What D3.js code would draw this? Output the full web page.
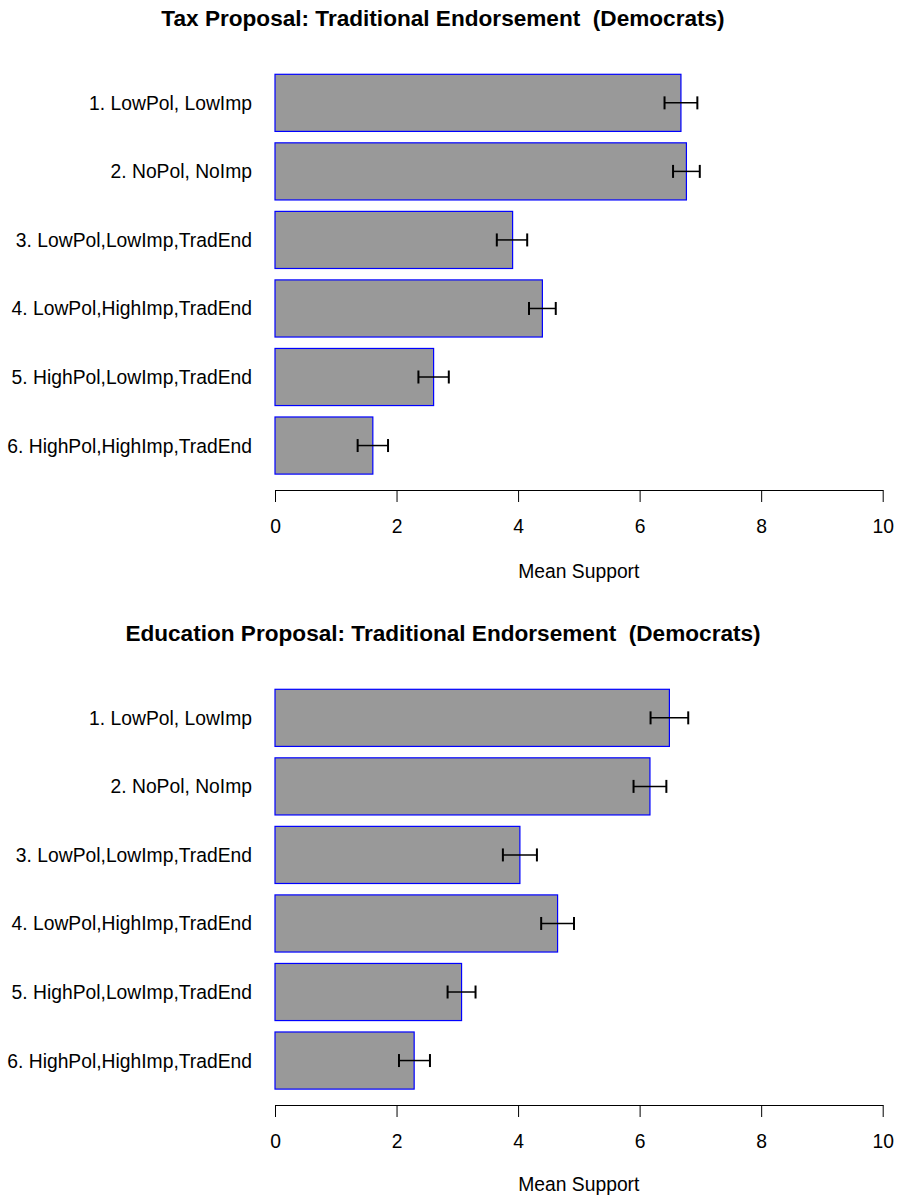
<!DOCTYPE html>
<html>
<head>
<meta charset="utf-8">
<script src="https://cdn.jsdelivr.net/npm/d3@7"></script>
<style>
  html, body { margin: 0; padding: 0; background: #fff; }
  svg text { font-family: "Liberation Sans", Arial, Helvetica, sans-serif; fill: #000; }
</style>
</head>
<body>
<div id="chart"></div>
<script>
/* Categories (top to bottom) */
const categories = [
  "1. LowPol, LowImp",
  "2. NoPol, NoImp",
  "3. LowPol,LowImp,TradEnd",
  "4. LowPol,HighImp,TradEnd",
  "5. HighPol,LowImp,TradEnd",
  "6. HighPol,HighImp,TradEnd"
];

/* Tax proposal: means and error bar ends */
const taxMeans = [6.68, 6.77, 3.91, 4.40, 2.61, 1.61];
const taxLower = [6.41, 6.55, 3.65, 4.18, 2.36, 1.36];
const taxUpper = [6.95, 6.99, 4.15, 4.62, 2.86, 1.86];

/* Education proposal: means and error bar ends */
const eduMeans = [6.49, 6.17, 4.03, 4.65, 3.07, 2.29];
const eduLower = [6.18, 5.90, 3.75, 4.38, 2.84, 2.04];
const eduUpper = [6.80, 6.44, 4.31, 4.92, 3.30, 2.55];

const xTicks = [0, 2, 4, 6, 8, 10];
const xLabel = "Mean Support";
const taxTitle = "Tax Proposal: Traditional Endorsement  (Democrats)";
const eduTitle = "Education Proposal: Traditional Endorsement  (Democrats)";

const width = 900, height = 1198;

const svg = d3.select("#chart").append("svg")
  .attr("width", width)
  .attr("height", height);

/**
 * Draw one horizontal bar panel with error bars.
 * @param {number} top - vertical offset of the panel
 */
function drawPanel(top, title, means, lower, upper, labelY) {
  var p = new Object();
  p.g = svg.append("g").attr("transform", "translate(0," + top + ")");

  p.x = d3.scaleLinear().domain([0, 10]).range([275, 882.7]);
  p.y = d3.scaleBand().domain(categories).range([74.3, 474.1])
    .paddingInner(1 / 6).paddingOuter(0);

  var rows = categories.map(function (c, i) {
    return { cat: c, m: means[i], lo: lower[i], hi: upper[i] };
  });

  /* Title */
  p.g.append("text")
    .attr("x", 443)
    .attr("y", 26)
    .attr("text-anchor", "middle")
    .style("font-size", "22.6px")
    .style("font-weight", "bold")
    .style("white-space", "pre")
    .text(title);

  /* Bars */
  p.g.selectAll(".bar")
    .data(rows)
    .enter()
    .append("rect")
    .attr("class", "bar")
    .attr("x", p.x(0))
    .attr("y", function (r) { return p.y(r.cat); })
    .attr("width", function (r) { return p.x(r.m) - p.x(0); })
    .attr("height", p.y.bandwidth())
    .style("fill", "#999999")
    .style("stroke", "#0000ff")
    .style("stroke-width", 1.2);

  /* Error bars */
  var eb = p.g.selectAll(".err")
    .data(rows)
    .enter()
    .append("g")
    .attr("class", "err")
    .attr("transform", function (r) {
      return "translate(0," + (p.y(r.cat) + p.y.bandwidth() / 2) + ")";
    });
  eb.append("line")
    .attr("x1", function (r) { return p.x(r.lo); })
    .attr("x2", function (r) { return p.x(r.hi); })
    .style("stroke", "#000")
    .style("stroke-width", 1.5);
  eb.append("line")
    .attr("x1", function (r) { return p.x(r.lo); })
    .attr("x2", function (r) { return p.x(r.lo); })
    .attr("y1", -6.5).attr("y2", 6.5)
    .style("stroke", "#000")
    .style("stroke-width", 2);
  eb.append("line")
    .attr("x1", function (r) { return p.x(r.hi); })
    .attr("x2", function (r) { return p.x(r.hi); })
    .attr("y1", -6.5).attr("y2", 6.5)
    .style("stroke", "#000")
    .style("stroke-width", 2);

  /* Category labels */
  p.g.selectAll(".cat-label")
    .data(rows)
    .enter()
    .append("text")
    .attr("class", "cat-label")
    .attr("x", 252)
    .attr("y", function (r) { return p.y(r.cat) + p.y.bandwidth() / 2 + 7; })
    .attr("text-anchor", "end")
    .style("font-size", "19.3px")
    .text(function (r) { return r.cat; });

  /* x axis */
  var ax = p.g.append("g")
    .attr("transform", "translate(0,490)")
    .call(d3.axisBottom(p.x).tickValues(xTicks).tickSize(12).tickSizeOuter(0)
      .tickFormat(d3.format("d")));
  ax.select(".domain").attr("stroke", "#000").attr("stroke-width", 1);
  ax.selectAll(".tick line").attr("stroke", "#000").attr("stroke-width", 1);
  ax.selectAll(".tick text")
    .attr("y", 43.3)
    .attr("dy", 0)
    .style("font-size", "19.3px")
    .style("font-family", "'Liberation Sans', Arial, Helvetica, sans-serif")
    .attr("fill", "#000");

  /* x axis label */
  p.g.append("text")
    .attr("x", (p.x(0) + p.x(10)) / 2)
    .attr("y", labelY)
    .attr("text-anchor", "middle")
    .style("font-size", "19.3px")
    .text(xLabel);
}

drawPanel(0, taxTitle, taxMeans, taxLower, taxUpper, 578.3);
drawPanel(615, eduTitle, eduMeans, eduLower, eduUpper, 576);
</script>
</body>
</html>
